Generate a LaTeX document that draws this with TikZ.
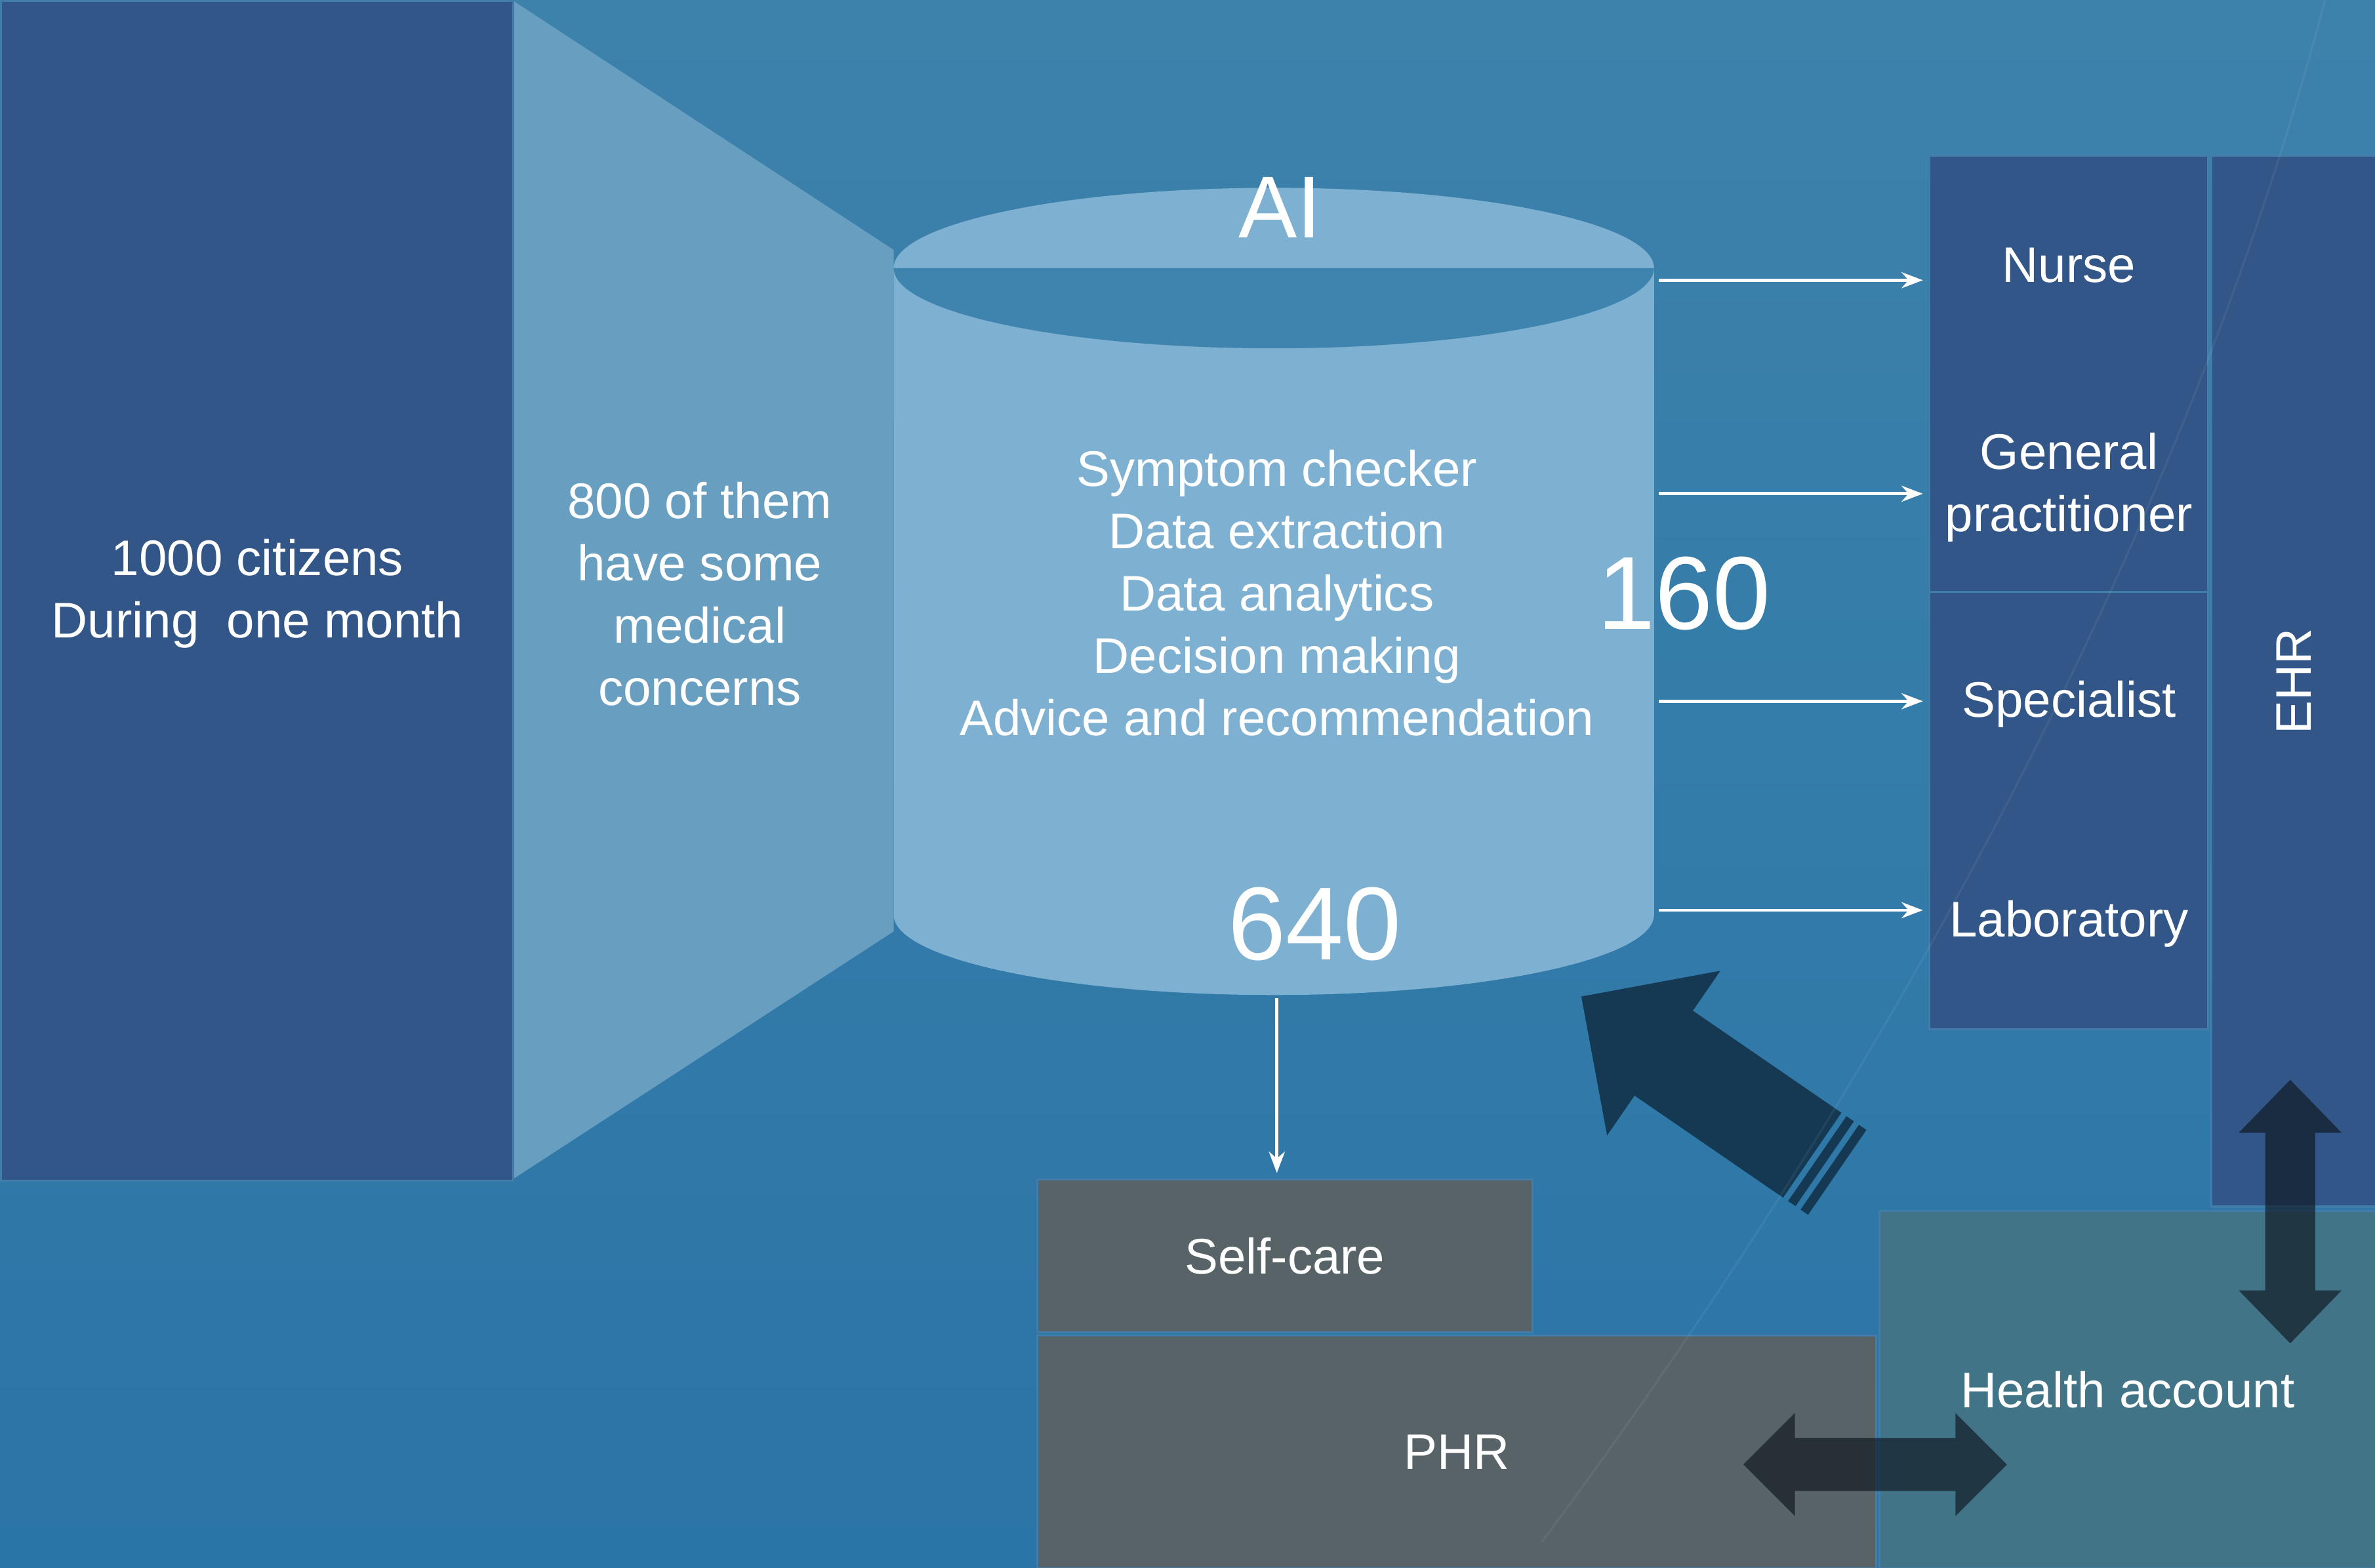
\documentclass[tikz,border=0pt]{standalone}
\usepackage{fontspec}
\setmainfont{Liberation Sans}
\usetikzlibrary{arrows.meta}
\definecolor{bgtop}{RGB}{61,130,171}
\definecolor{bgbot}{RGB}{42,117,167}
\definecolor{boxblue}{RGB}{51,86,136}
\definecolor{edgeblue}{RGB}{66,124,168}
\definecolor{funnel}{RGB}{104,158,192}
\definecolor{cylbody}{RGB}{126,176,210}
\definecolor{cyltop}{RGB}{62,132,174}
\definecolor{slate}{RGB}{88,99,104}
\definecolor{account}{RGB}{66,116,135}
\definecolor{arrowdark}{RGB}{21,57,82}
\definecolor{shadow}{RGB}{14,22,30}

\begin{document}
\begin{tikzpicture}[
  box/.style={fill=boxblue, draw=edgeblue, line width=0.4pt, inner sep=0pt,
    anchor=north west, text=white, align=center, font=\fontsize{9.4}{11.7}\selectfont},
  lbl/.style={text=white, align=center, font=\fontsize{9.4}{11.7}\selectfont},
  big/.style={text=white, font=\fontsize{19.5}{22}\selectfont},
  flow/.style={white, line width=0.6pt, -{Stealth[length=4pt,width=3pt]}, shorten >=1pt}
]
  \useasboundingbox (0,0) rectangle (15.68,-10.35);
  \shade[top color=bgtop, bottom color=bgbot] (0,0) rectangle (15.68,-10.35);

  % citizens and funnel
  \fill[funnel] (3.38,0) -- (5.90,-1.65) -- (5.90,-6.15) -- (3.38,-7.79) -- cycle;
  \node[box, minimum width=3.38cm, minimum height=7.79cm] (citizens) at (0,0) {};
  \node[lbl] (ctext) at (1.70,-3.92) {1000 citizens\\During~~one month};
  \node[lbl] (concerns) at (4.62,-3.92) {800 of them\\have some\\medical\\concerns};

  % AI cylinder
  \fill[cylbody] (5.90,-1.77) -- (5.90,-6.04) arc[start angle=180, end angle=360, x radius=2.51cm, y radius=0.53cm]
    -- (10.92,-1.77) arc[start angle=0, end angle=180, x radius=2.51cm, y radius=0.53cm] -- cycle;
  \fill[cyltop] (5.90,-1.77) arc[start angle=180, end angle=360, x radius=2.51cm, y radius=0.53cm] -- cycle;
  \node[text=white, font=\fontsize{16.5}{18}\selectfont] (ai) at (8.45,-1.37) {AI};
  \node[lbl] (tasks) at (8.43,-3.915) {Symptom checker\\Data extraction\\Data analytics\\Decision making\\Advice and recommendation};
  \node[big] (n160) at (11.12,-3.92) {160};
  \node[big] (n640) at (8.68,-6.10) {640};

  % care providers
  \node[box, minimum width=1.84cm, minimum height=2.88cm] (docs) at (12.73,-1.02) {};
  \node[box, minimum width=1.84cm, minimum height=2.89cm] (tests) at (12.73,-3.90) {};
  \node[box, minimum width=1.09cm, minimum height=6.94cm] (ehr) at (14.59,-1.02) {};
  \node[lbl] (nurse) at (13.66,-1.75) {Nurse};
  \node[lbl] (gp) at (13.66,-3.22) {General\\practitioner};
  \node[lbl] (spec) at (13.66,-4.65) {Specialist};
  \node[lbl] (lab) at (13.66,-6.10) {Laboratory};
  \node[lbl, rotate=90] (ehrtext) at (ehr.center) {EHR};

  \coordinate (out1) at (10.95,-1.85);
  \coordinate (out2) at (10.95,-3.26);
  \coordinate (out3) at (10.95,-4.63);
  \coordinate (out4) at (10.95,-6.01);
  \draw[flow] (out1) -- (out1 -| docs.west);
  \draw[flow] (out2) -- (out2 -| docs.west);
  \draw[flow] (out3) -- (out3 -| tests.west);
  \draw[flow] (out4) -- (out4 -| tests.west);

  % self-care and records
  \node[box, fill=slate, minimum width=3.27cm, minimum height=1.01cm] (selfcare) at (6.84,-7.78) {Self-care};
  \node[box, fill=slate, minimum width=5.54cm, minimum height=1.54cm] (phr) at (6.84,-8.81) {PHR};
  \node[box, fill=account, minimum width=3.28cm, minimum height=2.36cm] (account) at (12.40,-7.99) {Health account};

  \coordinate (cylbot) at (8.43,-6.59);
  \draw[flow] (cylbot) -- (cylbot |- selfcare.north);

  % big arrow back to AI
  \begin{scope}[shift={(10.44,-6.58)}, rotate=-34.5]
    \fill[arrowdark] (0,0) -- (0.66,0.66) -- (0.66,0.34) -- (1.85,0.34) -- (1.85,-0.34)
      -- (0.66,-0.34) -- (0.66,-0.66) -- cycle;
    \fill[arrowdark] (1.89,-0.34) rectangle (1.95,0.34);
    \fill[arrowdark] (1.99,-0.34) rectangle (2.05,0.34);
  \end{scope}

  % two-way arrows
  \fill[shadow, opacity=0.65] (15.12,-7.13) -- ++(0.34,-0.35) -- ++(-0.175,0) -- ++(0,-1.04) -- ++(0.175,0)
    -- (15.12,-8.87) -- ++(-0.34,0.35) -- ++(0.175,0) -- ++(0,1.04) -- ++(-0.175,0) -- cycle;
  \fill[shadow, opacity=0.65] (11.51,-9.67) -- ++(0.34,0.34) -- ++(0,-0.165) -- ++(1.06,0) -- ++(0,0.165)
    -- (13.25,-9.67) -- ++(-0.34,-0.34) -- ++(0,0.165) -- ++(-1.06,0) -- ++(0,-0.165) -- cycle;

  \draw[white, opacity=0.06] (10.18,-10.18) .. controls (12.4,-7.2) and (14.4,-3.6) .. (15.35,0);
\end{tikzpicture}
\end{document}
